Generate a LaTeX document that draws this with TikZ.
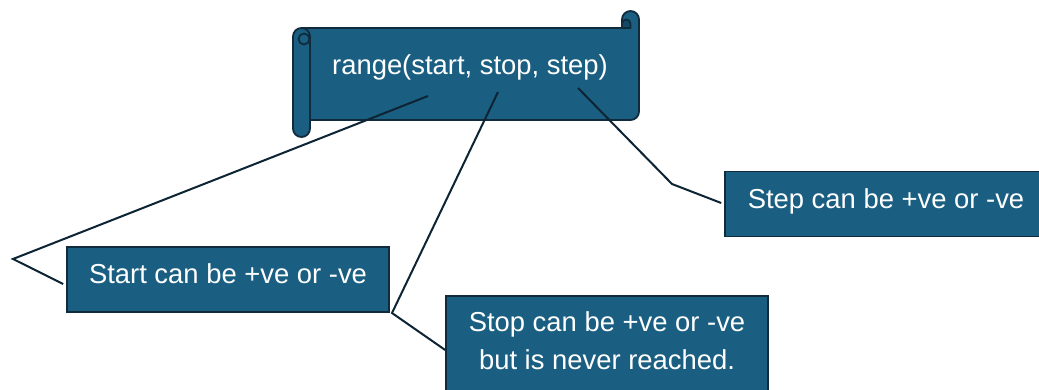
\documentclass[tikz,border=0pt]{standalone}
\usepackage{fontspec}
\setmainfont{Liberation Sans}
\usepackage{xcolor}
\usepackage{tikz}
\usetikzlibrary{positioning, calc}
\definecolor{boxblue}{HTML}{1A5F82}
\definecolor{boxdark}{HTML}{124A66}
\definecolor{edgenavy}{HTML}{0F2B3C}
\definecolor{linenavy}{HTML}{0C2433}
\tikzset{
  scroll/.style={fill=boxblue, draw=edgenavy, line width=1.8pt, line join=round},
  infobox/.style={rectangle, fill=boxblue, draw=edgenavy, line width=1.6pt,
    text=white, inner sep=0pt, minimum width=322pt, minimum height=65pt,
    font=\fontsize{27.4}{38}\selectfont, text height=20pt, text depth=12pt, align=center},
}
\tikzstyle{pointer} = [line width=2pt, draw=linenavy]

\begin{document}
\begin{tikzpicture}[x=1pt, y=-1pt]
        \useasboundingbox (0,0) rectangle (1039,389);
        \clip (0,0) rectangle (1039,389);
        \fill[white] (0,0) rectangle (1039,389);

        \filldraw[scroll] (301.5,28) -- (622,28) -- (622,19.5) arc (180:360:8.5)
            -- (639,111.5) arc (0:90:8.5) -- (301.5,120) -- cycle;
        \filldraw[scroll, fill=boxdark] (622,28) -- (622,23.75) arc (180:360:4.25) -- (630.5,28) -- cycle;
        \filldraw[scroll, rounded corners=8.5] (293,28) rectangle (310,137);
        \draw[scroll, fill=none] (304,39) circle (5.5);

        \node[text=white, font=\fontsize{27.4}{33}\selectfont, anchor=base] (range) at (470,74) {range(start, stop, step)};

        \node[infobox] (startbox) at (228,279.5) {Start can be +ve or -ve};
        \node[infobox] (stepbox) at (886,204) {Step can be +ve or -ve};
        \node[infobox, minimum height=108pt, text height=58pt, text depth=20pt] (stopbox) at (607,350) {Stop can be +ve or -ve\\but is never reached.};

        \coordinate (startpin) at (428,96);
        \coordinate (startknee) at (13,259);
        \coordinate (stoppin) at (498,92);
        \coordinate (stopknee) at (392,313);
        \coordinate (steppin) at (578,88);
        \coordinate (stepknee) at (672,184);

        \draw[pointer] (startpin) -- (startknee) -- ($(startbox.west)+(-3,4.5)$);
        \draw[pointer] (stoppin) -- (stopknee) -- (stopbox.west);
        \draw[pointer] (steppin) -- (stepknee) -- ($(stepbox.west)+(-3,-1)$);
\end{tikzpicture}
\end{document}
